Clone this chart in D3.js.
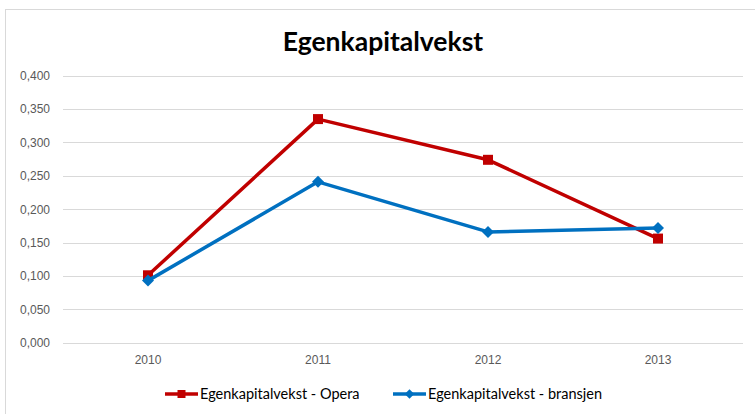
<!DOCTYPE html>
<html>
<head>
<meta charset="utf-8">
<script src="https://cdn.jsdelivr.net/npm/d3@7"></script>
<style>
  body { margin: 0; background: #fff; }
  svg { display: block; font-family: Lato, "Open Sans", sans-serif; }
</style>
</head>
<body>
<div id="chart"></div>
<script>
var years = ['2010', '2011', '2012', '2013'];
var opera = [0.101, 0.335, 0.274, 0.156];
var bransjen = [0.093, 0.241, 0.166, 0.172];
var yTicks = [0, 0.05, 0.1, 0.15, 0.2, 0.25, 0.3, 0.35, 0.4];
var seriesNames = ['Egenkapitalvekst - Opera', 'Egenkapitalvekst - bransjen'];

var width = 755, height = 414;

var svg = d3.select('#chart')
    .append('svg')
        .attr('width', width)
        .attr('height', height);

// chart border
svg.append('rect')
    .attr('x', 5.5)
    .attr('y', 9.5)
    .attr('width', 760)
    .attr('height', 420)
    .attr('fill', 'none')
    .attr('stroke', '#d9d9d9');

var x = d3.scaleBand()
    .domain(years)
    .range([63, 743]);

var y = d3.scaleLinear()
    .domain([0, 0.4])
    .range([342.7, 75.7]);

var fmt = function(d) { return d3.format('.3f')(d).replace('.', ','); };

// grid
svg.append('g')
    .selectAll('line')
    .data(yTicks)
    .join('line')
        .attr('x1', 63)
        .attr('x2', 743)
        .attr('y1', function(d) { return Math.round(y(d)) + 0.5; })
        .attr('y2', function(d) { return Math.round(y(d)) + 0.5; })
        .attr('stroke', '#d9d9d9')
        .attr('stroke-width', 1);

// y axis labels
var yAxis = svg.append('g')
    .attr('transform', 'translate(63,0)')
    .call(d3.axisLeft(y).tickValues(yTicks).tickFormat(fmt).tickSize(0).tickPadding(13));
yAxis.select('.domain').remove();
yAxis.selectAll('text')
    .attr('fill', '#595959')
    .style('font-size', '12px');

// x axis labels
var xAxis = svg.append('g')
    .attr('transform', 'translate(0,343)')
    .call(d3.axisBottom(x).tickSize(0).tickPadding(12));
xAxis.select('.domain').remove();
xAxis.selectAll('text')
    .attr('fill', '#595959')
    .style('font-size', '12px');

// title
svg.append('text')
    .attr('x', 383)
    .attr('y', 51)
    .attr('text-anchor', 'middle')
    .style('font-size', '26.5px')
    .style('font-weight', 'bold')
    .attr('fill', '#000')
    .text('Egenkapitalvekst');

var line = d3.line()
    .x(function(d, i) { return x(years[i]) + x.bandwidth() / 2; })
    .y(function(d) { return y(d); });

// diamond = square turned 45 degrees
function marker(shape, size) {
    return d3.symbol().type(d3.symbolSquare).size(size)();
}

function drawSeries(data, color, shape) {
    svg.append('path')
        .datum(data)
        .attr('d', line)
        .attr('fill', 'none')
        .attr('stroke', color)
        .attr('stroke-width', 3.5)
        .attr('stroke-linejoin', 'round');

    svg.append('g')
        .selectAll('path')
        .data(data)
        .join('path')
            .attr('transform', function(d, i) {
                return 'translate(' + (x(years[i]) + x.bandwidth() / 2) + ',' + y(d) + ')' +
                    (shape === 'diamond' ? ' rotate(45)' : '');
            })
            .attr('d', marker(shape, shape === 'diamond' ? 72 : 100))
            .attr('fill', color);
}

drawSeries(opera, '#c00000', 'square');
drawSeries(bransjen, '#0070c0', 'diamond');

// legend
var legend = [
    { name: seriesNames[0], color: '#c00000', shape: 'square', x: 165 },
    { name: seriesNames[1], color: '#0070c0', shape: 'diamond', x: 393 }
];

var lg = svg.append('g')
    .selectAll('g')
    .data(legend)
    .join('g')
        .attr('transform', function(d) { return 'translate(' + d.x + ',394)'; });

lg.append('line')
    .attr('x1', 0)
    .attr('x2', 33)
    .attr('stroke', function(d) { return d.color; })
    .attr('stroke-width', 3.5);

lg.append('path')
    .attr('transform', function(d) { return 'translate(16.5,0)' + (d.shape === 'diamond' ? ' rotate(45)' : ''); })
    .attr('d', function(d) { return marker(d.shape, d.shape === 'diamond' ? 45 : 64); })
    .attr('fill', function(d) { return d.color; });

lg.append('text')
    .attr('x', 35)
    .attr('y', 5)
    .style('font-size', '14.5px')
    .attr('fill', '#000')
    .text(function(d) { return d.name; });
</script>
</body>
</html>
